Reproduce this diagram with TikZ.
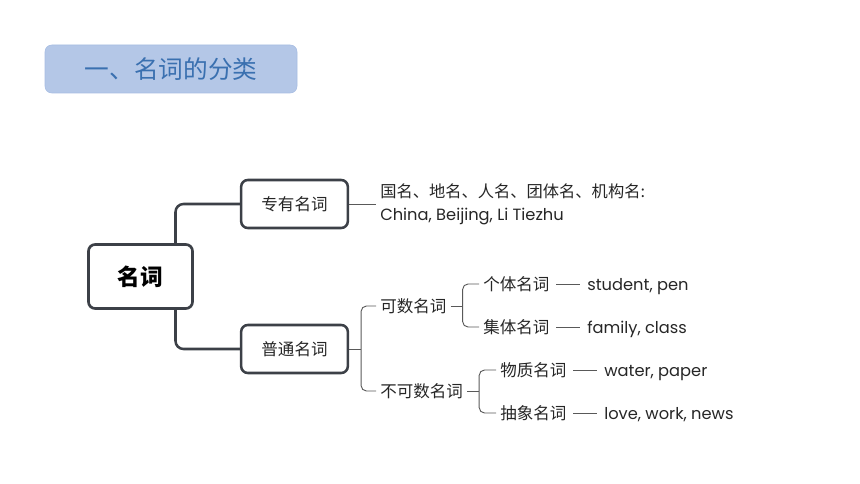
\documentclass[tikz,border=0pt]{standalone}
\usepackage{fontspec}
\setmainfont{Poppins}
\newfontfamily\cjk{Noto Sans CJK SC}
\definecolor{nounBlue}{HTML}{B4C7E7}
\definecolor{nounBlueLine}{HTML}{A6BCE2}
\definecolor{nounTitle}{HTML}{3A70B0}
\definecolor{nounDark}{HTML}{3C4047}
\definecolor{nounGrey}{HTML}{595959}
\definecolor{nounText}{HTML}{262626}
\usetikzlibrary{positioning, calc}
\tikzset{
    title node/.style={rectangle, draw=nounBlueLine, fill=nounBlue, rounded corners=5pt, minimum width=189pt, minimum height=36pt, text=nounTitle, font=\cjk\fontsize{18.5}{22}\selectfont},
    root node/.style={rectangle, draw=nounDark, fill=white, line width=2pt, rounded corners=5pt, minimum width=78pt, minimum height=48pt, text=black, font=\cjk\bfseries\fontsize{17}{20}\selectfont},
    branch node/.style={rectangle, draw=nounDark, fill=white, line width=1.9pt, rounded corners=5pt, minimum width=80pt, minimum height=36pt, text=nounText, font=\cjk\fontsize{12.4}{15}\selectfont},
    leaf text/.style={anchor=west, inner sep=3pt, text=nounText, font=\cjk\fontsize{12.4}{15}\selectfont},
    example text/.style={inner sep=3pt, text=nounText, font=\fontsize{12.2}{14}\selectfont},
    thick line/.style={draw=nounDark, line width=1.9pt, rounded corners=6pt},
    thin line/.style={draw=nounGrey, line width=0.7pt, rounded corners=4pt},
}

\begin{document}
\begin{tikzpicture}[x=0.75pt, y=-0.75pt]
    \useasboundingbox (0,0) rectangle (860,484);

    % title
    \node[title node] (title) at (171,69) {一、名词的分类};

    % main boxes
    \node[root node] (root) at (140.5,276.5) {名词};
    \node[branch node] (zhuan) at (294.5,204) {专有名词};
    \node[branch node] (putong) at (294.5,349) {普通名词};

    \draw[thick line] ($(root.north)+(35,0)$) |- (zhuan.west);
    \draw[thick line] ($(root.south)+(35,0)$) |- (putong.west);

    % proper nouns
    \node[leaf text, align=left, font=\fontsize{12.2}{17.5}\selectfont] (proper) at (376,204.5)
        {{\cjk 国名、地名、人名、团体名、机构名:}\\China, Beijing, Li Tiezhu};
    \draw[thin line] (zhuan.east) -- (zhuan.east -| proper.west);

    % common nouns
    \node[leaf text] (kes) at (376,306) {可数名词};
    \node[leaf text] (bukes) at (376,391) {不可数名词};
    \draw[thin line] (putong.east) -- ++(12,0) coordinate (putongfork);
    \draw[thin line] (kes.west) -| (putongfork) |- (bukes.west);

    \node[leaf text] (geti) at (479,284) {个体名词};
    \node[leaf text] (jiti) at (479,327) {集体名词};
    \draw[thin line] (kes.east) -- ++(12,0) coordinate (kesfork);
    \draw[thin line] (geti.west) -| (kesfork) |- (jiti.west);

    \node[leaf text] (wuzhi) at (496,370) {物质名词};
    \node[leaf text] (chouxiang) at (496,413) {抽象名词};
    \draw[thin line] (bukes.east) -- ++(12,0) coordinate (bukesfork);
    \draw[thin line] (wuzhi.west) -| (bukesfork) |- (chouxiang.west);

    % examples
    \node[example text, base right=22pt of geti] (ex1) {student, pen};
    \node[example text, base right=22pt of jiti] (ex2) {family, class};
    \node[example text, base right=22pt of wuzhi] (ex3) {water, paper};
    \node[example text, base right=22pt of chouxiang] (ex4) {love, work, news};
    \draw[thin line, shorten <=2pt, shorten >=2pt] (geti.east) -- (geti.east -| ex1.west);
    \draw[thin line, shorten <=2pt, shorten >=2pt] (jiti.east) -- (jiti.east -| ex2.west);
    \draw[thin line, shorten <=2pt, shorten >=2pt] (wuzhi.east) -- (wuzhi.east -| ex3.west);
    \draw[thin line, shorten <=2pt, shorten >=2pt] (chouxiang.east) -- (chouxiang.east -| ex4.west);
\end{tikzpicture}
\end{document}
